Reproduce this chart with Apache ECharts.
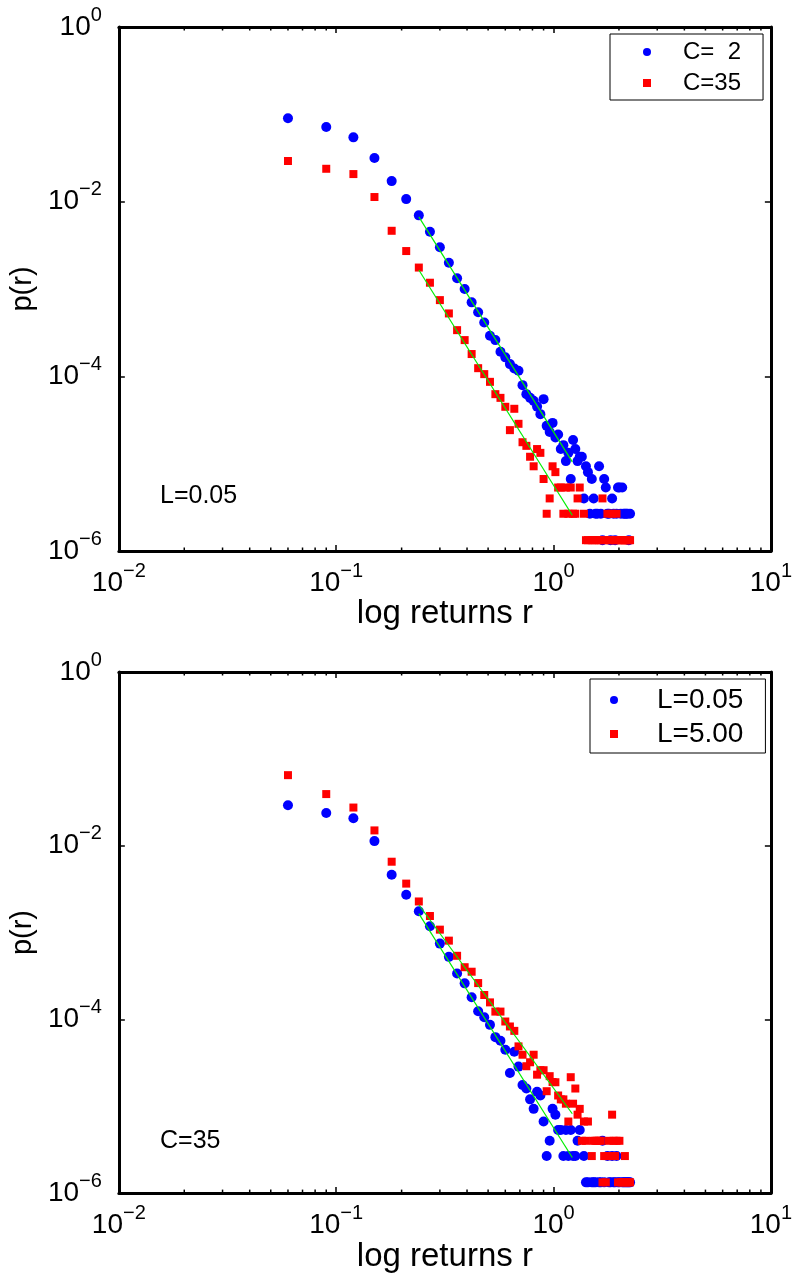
<!DOCTYPE html>
<html>
<head>
<meta charset="utf-8">
<script src="https://cdn.jsdelivr.net/npm/echarts@6/dist/echarts.min.js"></script>
<style>
  html, body { margin: 0; padding: 0; background: #fff; }
  #chart { width: 795px; height: 1274px; }
</style>
</head>
<body>
<div id="chart"></div>
<script>
// ---- data ----
// histogram bin centres of the log returns r
const rBins = [0.06,0.09,0.12,0.15,0.18,0.21,0.24,0.27,0.30,0.33,0.36,0.39,0.42,0.45,0.48,0.51,0.54,0.57,0.60,0.63,
  0.66,0.69,0.72,0.75,0.78,0.81,0.84,0.87,0.90,0.93,0.96,0.99,1.02,1.05,1.08,1.11,1.14,1.17,1.20,1.23,
  1.26,1.29,1.32,1.35,1.38,1.41,1.44,1.47,1.50,1.53,1.56,1.59,1.62,1.65,1.68,1.71,1.74,1.77,1.80,1.83,
  1.86,1.89,1.92,1.95,1.98,2.01,2.04,2.07,2.10,2.13,2.16,2.19,2.22,2.25];

// p(r) for C=2, L=0.05
const pC2L005 = [0.0900,0.0715,0.0545,0.0316,0.0172,0.0107,0.00697,0.00452,0.00300,0.00200,
  0.00133,0.00100,0.000703,0.000543,0.000414,0.000291,0.000260,0.000191,0.000165,0.000138,
  0.000123,0.000116,7.93e-5,6.25e-5,5.67e-5,5.24e-5,4.5e-5,3.69e-5,5.48e-5,2.71e-5,
  2.31e-5,2.93e-5,2.0e-5,2.16e-5,1.47e-5,1.63e-5,1.07e-5,1.33e-5,6.67e-6,1.87e-5,
  1.47e-5,1.07e-5,1.2e-5,1.2e-5,4.0e-6,9.33e-6,8.0e-6,2.67e-6,6.67e-6,4.0e-6,
  2.67e-6,2.67e-6,9.33e-6,2.67e-6,1.33e-6,6.67e-6,5.33e-6,2.67e-6,2.67e-6,1.33e-6,
  4.0e-6,2.67e-6,1.33e-6,2.67e-6,5.33e-6,5.33e-6,2.67e-6,5.33e-6,2.67e-6,2.67e-6,
  2.67e-6,2.67e-6,1.33e-6,2.67e-6];

// p(r) for C=35, L=0.05 (shown in both panels)
const pC35L005 = [0.0292,0.0238,0.0207,0.0113,0.00464,0.00272,0.00176,0.00118,0.000746,0.000525,
  0.000338,0.000260,0.000180,0.000124,0.000106,8.65e-5,6.25e-5,5.67e-5,4.48e-5,2.42e-5,
  4.25e-5,2.86e-5,1.76e-5,1.6e-5,1.2e-5,9.33e-6,1.47e-5,1.33e-5,6.67e-6,2.67e-6,
  4.0e-6,9.33e-6,8.0e-6,5.33e-6,5.33e-6,2.67e-6,5.33e-6,2.67e-6,5.33e-6,2.67e-6,
  2.67e-6,4.0e-6,5.33e-6,null,2.67e-6,1.33e-6,1.33e-6,null,1.33e-6,1.33e-6,
  1.33e-6,null,1.33e-6,1.33e-6,4.0e-6,1.33e-6,null,2.67e-6,1.33e-6,1.33e-6,
  2.67e-6,1.33e-6,1.33e-6,2.67e-6,1.33e-6,1.33e-6,null,1.33e-6,1.33e-6,1.33e-6,
  1.33e-6,1.33e-6,1.33e-6,1.33e-6];

// p(r) for C=35, L=5.00
const pC35L500 = [0.0649,0.0393,0.0275,0.0150,0.00654,0.00366,0.00228,0.00155,0.00108,0.000807,
  0.000540,0.000399,0.000354,0.000262,0.000191,0.000157,0.000123,0.000123,9.46e-5,8.29e-5,
  7.38e-5,4.89e-5,3.92e-5,2.89e-5,3.21e-5,3.92e-5,2.31e-5,2.6e-5,2.6e-5,1.49e-5,
  2.22e-5,1.9e-5,1.89e-5,1.33e-5,1.2e-5,1.2e-5,1.07e-5,6.67e-6,2.16e-5,1.07e-5,
  1.6e-5,8.0e-6,9.33e-6,4.0e-6,6.67e-6,4.0e-6,6.67e-6,null,2.67e-6,4.0e-6,
  4.0e-6,4.0e-6,4.0e-6,4.0e-6,1.33e-6,2.67e-6,1.33e-6,2.67e-6,4.0e-6,2.67e-6,
  8.0e-6,4.0e-6,2.67e-6,4.0e-6,1.33e-6,4.0e-6,1.33e-6,1.33e-6,1.33e-6,2.67e-6,
  1.33e-6,1.33e-6,1.33e-6,1.33e-6];

// power-law fits (green lines): end points
const fitR = [0.24, 1.22];
const fitC2L005 = [6.7e-3, 1.05e-5];
const fitC35L005 = [1.65e-3, 2.57e-6];
const fitC35L500 = [2.09e-3, 8.2e-6];

// axis ranges / ticks
const xRange = [0.01, 10];
const yRange = [1e-6, 1];
const xMinorTicks = [0.02,0.03,0.04,0.05,0.06,0.07,0.08,0.09,0.2,0.3,0.4,0.5,0.6,0.7,0.8,0.9,2,3,4,5,6,7,8,9];

// legend / annotation labels
const topNames = ['C=  2', 'C=35'];
const botNames = ['L=0.05', 'L=5.00'];
const topNote = 'L=0.05';
const botNote = 'C=35';

// ---- build chart ----
const FONT = "'Liberation Sans', Arial, Helvetica, sans-serif";
const pairs = (xs, ys) => xs.map((x, i) => ys[i] == null ? null : [x, ys[i]]).filter(Boolean);

function expLabel(v) {
  const e = Math.round(Math.log10(v));
  const s = e < 0 ? '\u2212' + (-e) : String(e);
  return '{b|10}{s|' + s + '}';
}
const labelRich = {
  b: { fontSize: 28, fontFamily: FONT, color: '#000', height: 28, padding: [8, 0, 8, 0] },
  s: { fontSize: 20, fontFamily: FONT, color: '#000', height: 20, verticalAlign: 'top' }
};

function xAx(grid, pos, labels) {
  return {
    type: 'log', logBase: 10, min: xRange[0], max: xRange[1], gridIndex: grid, position: pos,
    axisLine: { show: true, onZero: false, lineStyle: { color: '#000', width: 3 } },
    axisTick: { show: true, inside: true, length: 6, lineStyle: { color: '#000', width: 1.5 } },
    axisLabel: { show: labels, margin: 10, formatter: expLabel, rich: labelRich },
    splitLine: { show: false }, minorTick: { show: false }, minorSplitLine: { show: false },
    name: labels ? 'log returns r' : '', nameLocation: 'middle', nameGap: 34,
    nameTextStyle: { fontSize: 33, fontFamily: FONT, color: '#000', verticalAlign: 'top' }
  };
}
function yAx(grid, pos, labels) {
  return {
    type: 'log', logBase: 100, min: yRange[0], max: yRange[1], gridIndex: grid, position: pos,
    axisLine: { show: true, onZero: false, lineStyle: { color: '#000', width: 3 } },
    axisTick: { show: true, inside: true, length: 6, lineStyle: { color: '#000', width: 1.5 } },
    axisLabel: { show: labels, margin: 17, formatter: expLabel, rich: labelRich },
    splitLine: { show: false }, minorTick: { show: false }, minorSplitLine: { show: false },
    name: labels ? 'p(r)' : '', nameLocation: 'middle', nameGap: 48, nameRotate: 90,
    nameTextStyle: { fontSize: 29, fontFamily: FONT, color: '#000' }
  };
}

function minorTickSeries(ax) {
  return {
    type: 'custom', xAxisIndex: ax, yAxisIndex: ax, silent: true, clip: false, z: 5,
    data: xMinorTicks.map(v => [v, yRange[0]]),
    encode: { x: 0, y: 1 },
    renderItem: function (params, api) {
      const x = api.value(0);
      const pb = api.coord([x, yRange[0]]);
      const pt = api.coord([x, yRange[1]]);
      const st = { stroke: '#000', lineWidth: 1.5 };
      return { type: 'group', children: [
        { type: 'line', shape: { x1: pb[0], y1: pb[1], x2: pb[0], y2: pb[1] - 3.5 }, style: st },
        { type: 'line', shape: { x1: pt[0], y1: pt[1], x2: pt[0], y2: pt[1] + 3.5 }, style: st }
      ] };
    }
  };
}
function dots(name, ax, ys, shape) {
  const blue = shape === 'circle';
  return {
    name: name, type: 'scatter', xAxisIndex: ax, yAxisIndex: ax,
    data: pairs(rBins, ys), symbol: shape, symbolSize: blue ? 10 : 8,
    itemStyle: { color: blue ? '#0000ff' : '#ff0000', opacity: 1 }, z: blue ? 2 : 3
  };
}
function fit(ax, ys) {
  return {
    type: 'line', xAxisIndex: ax, yAxisIndex: ax, data: pairs(fitR, ys), symbol: 'none',
    lineStyle: { color: '#00ee00', width: 1.2 }, z: 4, silent: true
  };
}

const chart = echarts.init(document.getElementById('chart'), null, { renderer: 'canvas' });
chart.setOption({
  animation: false,
  backgroundColor: '#fff',
  grid: [
    { left: 105, top: 27, width: 668, height: 524 },
    { left: 105, top: 672, width: 668, height: 525 }
  ],
  xAxis: [xAx(0, 'bottom', true), xAx(0, 'top', false), xAx(1, 'bottom', true), xAx(1, 'top', false)],
  yAxis: [yAx(0, 'left', true), yAx(0, 'right', false), yAx(1, 'left', true), yAx(1, 'right', false)],
  legend: [
    {
      orient: 'vertical', left: 610, top: 34, padding: [6, 22, 5, 33], itemGap: 7,
      itemWidth: 8, itemHeight: 8, borderColor: '#000', borderWidth: 1, backgroundColor: '#fff',
      selectedMode: false,
      textStyle: { fontSize: 24, fontFamily: FONT, color: '#000', lineHeight: 24, padding: [0, 0, 0, 27] },
      data: [{ name: topNames[0], icon: 'circle' }, { name: topNames[1], icon: 'rect' }]
    },
    {
      orient: 'vertical', left: 590, top: 679, padding: [7, 22, 5, 20], itemGap: 6,
      itemWidth: 8, itemHeight: 8, borderColor: '#000', borderWidth: 1, backgroundColor: '#fff',
      selectedMode: false,
      textStyle: { fontSize: 28, fontFamily: FONT, color: '#000', lineHeight: 28, padding: [0, 0, 0, 34] },
      data: [{ name: botNames[0], icon: 'circle' }, { name: botNames[1], icon: 'rect' }]
    }
  ],
  graphic: [
    { type: 'text', left: 160, top: 484, style: { text: topNote, font: '25px ' + FONT, fill: '#000' } },
    { type: 'text', left: 160, top: 1129, style: { text: botNote, font: '25px ' + FONT, fill: '#000' } }
  ],
  series: [
    dots(topNames[0], 0, pC2L005, 'circle'),
    dots(topNames[1], 0, pC35L005, 'rect'),
    fit(0, fitC2L005),
    fit(0, fitC35L005),
    minorTickSeries(0),
    dots(botNames[0], 2, pC35L005, 'circle'),
    dots(botNames[1], 2, pC35L500, 'rect'),
    fit(2, fitC35L005),
    fit(2, fitC35L500),
    minorTickSeries(2)
  ]
});
</script>
</body>
</html>
